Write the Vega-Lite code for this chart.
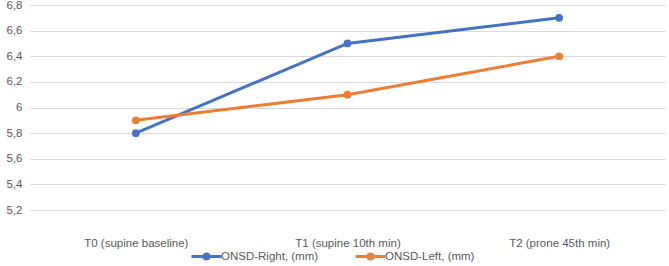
{
  "$schema": "https://vega.github.io/schema/vega-lite/v6.json",
  "width": 635,
  "height": 205,
  "autosize": {"type": "none"},
  "padding": {"left": 30, "top": 5, "right": 4, "bottom": 56},
  "background": "white",
  "config": {
    "view": {"stroke": null},
    "font": "Liberation Sans"
  },
  "data": {
    "values": [
      {"time": "T0 (supine baseline)", "series": "ONSD-Right, (mm)", "value": 5.8},
      {"time": "T1 (supine 10th min)", "series": "ONSD-Right, (mm)", "value": 6.5},
      {"time": "T2 (prone 45th min)", "series": "ONSD-Right, (mm)", "value": 6.7},
      {"time": "T0 (supine baseline)", "series": "ONSD-Left, (mm)", "value": 5.9},
      {"time": "T1 (supine 10th min)", "series": "ONSD-Left, (mm)", "value": 6.1},
      {"time": "T2 (prone 45th min)", "series": "ONSD-Left, (mm)", "value": 6.4}
    ]
  },
  "mark": {"type": "line", "strokeWidth": 3, "point": {"size": 60, "filled": true}},
  "encoding": {
    "x": {
      "field": "time", "type": "nominal", "sort": null,
      "scale": {"type": "point", "padding": 0.5},
      "axis": {"title": null, "labelAngle": 0, "domain": false, "ticks": false, "labelPadding": 27, "labelFontSize": 11.5, "labelColor": "#595959", "grid": false}
    },
    "y": {
      "field": "value", "type": "quantitative",
      "scale": {"domain": [5.2, 6.8], "nice": false, "zero": false},
      "axis": {"title": null, "values": [5.2, 5.4, 5.6, 5.8, 6.0, 6.2, 6.4, 6.6, 6.8], "labelExpr": "replace(format(datum.value, '.2~f'), '.', ',')", "domain": false, "ticks": false, "labelPadding": 8, "labelFontSize": 11.5, "labelColor": "#595959", "gridColor": "#d9d9d9", "gridWidth": 1}
    },
    "color": {
      "field": "series", "type": "nominal",
      "scale": {"domain": ["ONSD-Right, (mm)", "ONSD-Left, (mm)"], "range": ["#4472C4", "#ED7D31"]},
      "legend": {
        "title": null, "orient": "none", "direction": "horizontal",
        "legendX": 165, "legendY": 240,
        "symbolType": "M-1.5,0H1.5M-0.25,0A0.25,0.25 0 1,1 0.25,0A0.25,0.25 0 1,1 -0.25,0",
        "symbolSize": 400, "symbolStrokeWidth": 3,
        "labelFontSize": 11.5, "labelColor": "#595959", "columnPadding": 30, "labelOffset": 3
      }
    }
  }
}
